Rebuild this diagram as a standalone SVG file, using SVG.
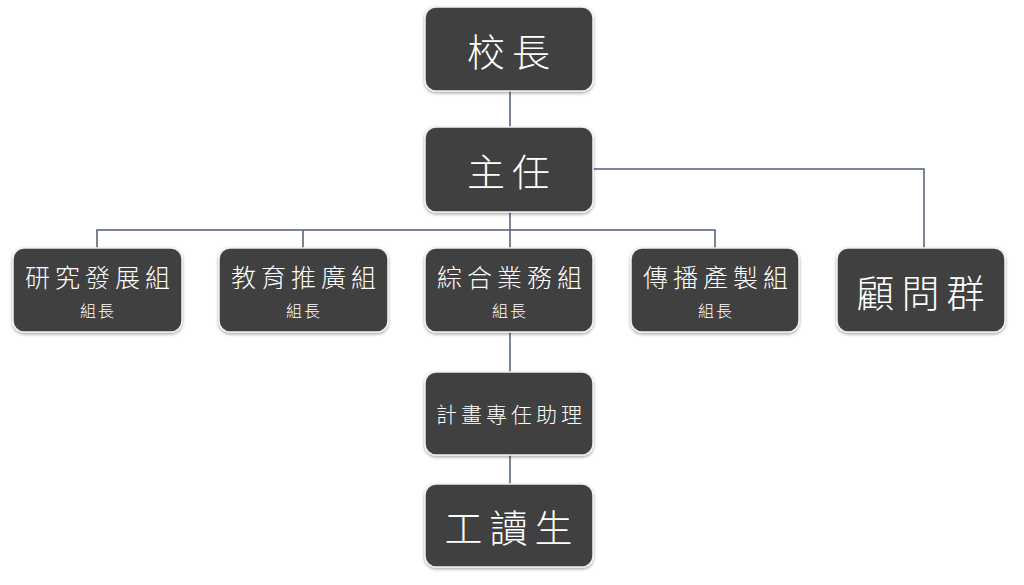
<svg xmlns="http://www.w3.org/2000/svg" width="1024" height="585" viewBox="0 0 1024 585">
<defs>
<filter id="sh" x="-10%" y="-10%" width="120%" height="130%">
<feDropShadow dx="0" dy="1.5" stdDeviation="1.5" flood-color="#000" flood-opacity="0.35"/>
</filter>
<style>
.box{fill:#3f3f3f;stroke:#f2f2f2;stroke-width:1.5;filter:url(#sh)}
.t{fill:#ffffff;font-family:"Noto Sans CJK TC","Noto Sans CJK SC",sans-serif;font-weight:300;text-anchor:middle;dominant-baseline:central}
.big{font-size:38px;letter-spacing:7px}
.mid{font-size:25px;letter-spacing:5px}
.small{font-size:16px;letter-spacing:2px}
.ast{font-size:21px;letter-spacing:4px}
.con{fill:none;stroke:#4f5d78;stroke-width:1.5}
</style>
</defs>
<rect width="1024" height="585" fill="#ffffff"/>
<g id="connectors">
<path class="con" d="M510 91 V127"/>
<path class="con" d="M593 169 H924 V248"/>
<path class="con" d="M510 212 V230 M97 248 V230 H715 V248 M303 230 V248 M510 230 V248"/>
<path class="con" d="M510 332 V372"/>
<path class="con" d="M510 455 V484"/>
</g>
<g id="principal">
<rect class="box" x="425" y="7" width="168" height="84" rx="11"/>
<text class="t big" x="512" y="49">校長</text>
</g>
<g id="director">
<rect class="box" x="425" y="127" width="168" height="85" rx="11"/>
<text class="t big" x="512" y="169">主任</text>
</g>
<g id="research">
<rect class="box" x="13" y="248" width="169" height="84" rx="11"/>
<text class="t mid" x="100" y="276">研究發展組</text>
<text class="t small" x="98" y="310">組長</text>
</g>
<g id="education">
<rect class="box" x="219" y="248" width="169" height="84" rx="11"/>
<text class="t mid" x="306" y="276">教育推廣組</text>
<text class="t small" x="304" y="310">組長</text>
</g>
<g id="general">
<rect class="box" x="425" y="248" width="168" height="84" rx="11"/>
<text class="t mid" x="512" y="276">綜合業務組</text>
<text class="t small" x="510" y="310">組長</text>
</g>
<g id="media">
<rect class="box" x="631" y="248" width="168" height="84" rx="11"/>
<text class="t mid" x="718" y="276">傳播產製組</text>
<text class="t small" x="716" y="310">組長</text>
</g>
<g id="advisors">
<rect class="box" x="837" y="248" width="168" height="84" rx="11"/>
<text class="t big" x="924" y="290">顧問群</text>
</g>
<g id="assistant">
<rect class="box" x="425" y="372" width="168" height="83" rx="11"/>
<text class="t ast" x="511" y="413">計畫專任助理</text>
</g>
<g id="student">
<rect class="box" x="425" y="484" width="168" height="83" rx="11"/>
<text class="t big" x="512" y="525">工讀生</text>
</g>
</svg>
